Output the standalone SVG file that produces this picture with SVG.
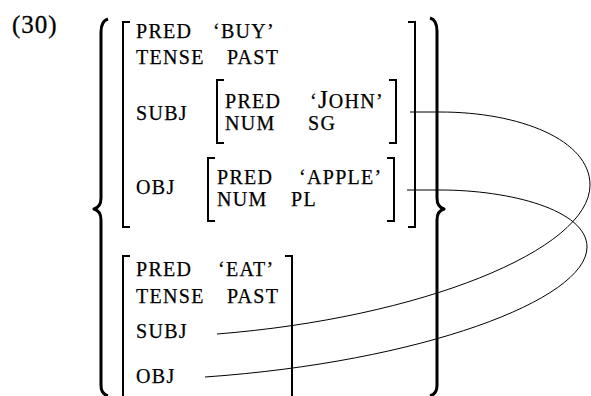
<svg xmlns="http://www.w3.org/2000/svg" width="591" height="396" viewBox="0 0 591 396">
<style>
.t{font-family:"Liberation Serif","Times New Roman",serif;font-size:20px;letter-spacing:1.3px;fill:#000;stroke:#000;stroke-width:0.25}
.num{font-family:"Liberation Serif","Times New Roman",serif;font-size:25px;letter-spacing:1px;fill:#000;stroke:#000;stroke-width:0.3}
.big{font-size:25px;letter-spacing:1px}
.br{fill:none;stroke:#000;stroke-width:2}
.brace{fill:none;stroke:#000;stroke-width:3;stroke-linejoin:round}
.con{fill:none;stroke:#000;stroke-width:1}
</style>
<text class="num" x="12" y="33">(30)</text>
<g id="brace-left"><path class="brace" d="M108,19 Q101,21 101,32 L101,198 Q101,207 94,209 Q101,211 101,220 L101,385 Q101,394 108,396"/></g>
<g id="brace-right"><path class="brace" d="M430,18 Q437,20 437,31 L437,198 Q437,207 444,209 Q437,211 437,220 L437,385 Q437,394 430,396"/></g>
<g id="avm-buy">
<path class="br" d="M130,22 L123,22 L123,227 L130,227"/>
<path class="br" d="M408,22 L415,22 L415,227 L408,227"/>
<text class="t" x="136" y="38">PRED</text>
<text class="t" x="213" y="38">‘BUY’</text>
<text class="t" x="136" y="64">TENSE</text>
<text class="t" x="227" y="64">PAST</text>
<text class="t" x="136" y="120">SUBJ</text>
<text class="t" x="136" y="194">OBJ</text>
</g>
<g id="avm-john">
<path class="br" d="M224,80 L217,80 L217,143 L224,143"/>
<path class="br" d="M389,80 L396,80 L396,143 L389,143"/>
<text class="t" x="225" y="108">PRED</text>
<text class="t" x="310" y="108">‘<tspan class="big">J</tspan>OHN’</text>
<text class="t" x="225" y="130">NUM</text>
<text class="t" x="308" y="130">SG</text>
</g>
<g id="avm-apple">
<path class="br" d="M215,158 L208,158 L208,221 L215,221"/>
<path class="br" d="M387,158 L394,158 L394,221 L387,221"/>
<text class="t" x="217" y="184">PRED</text>
<text class="t" x="299" y="184">‘APPLE’</text>
<text class="t" x="217" y="206">NUM</text>
<text class="t" x="291" y="206">PL</text>
</g>
<g id="avm-eat">
<path class="br" d="M130,256 L123,256 L123,398"/>
<path class="br" d="M285,256 L292,256 L292,398"/>
<text class="t" x="136" y="276">PRED</text>
<text class="t" x="218" y="276">‘EAT’</text>
<text class="t" x="136" y="303">TENSE</text>
<text class="t" x="227" y="303">PAST</text>
<text class="t" x="136" y="338">SUBJ</text>
<text class="t" x="136" y="383">OBJ</text>
</g>
<g id="connectors">
<path class="con" d="M410,112 L440,112 C520,112 590,140 590,185 C590,250 420,318 217,334"/>
<path class="con" d="M407,190 L440,190 C510,190 587,210 587,247 C587,300 420,362 205,377"/>
</g>
</svg>
